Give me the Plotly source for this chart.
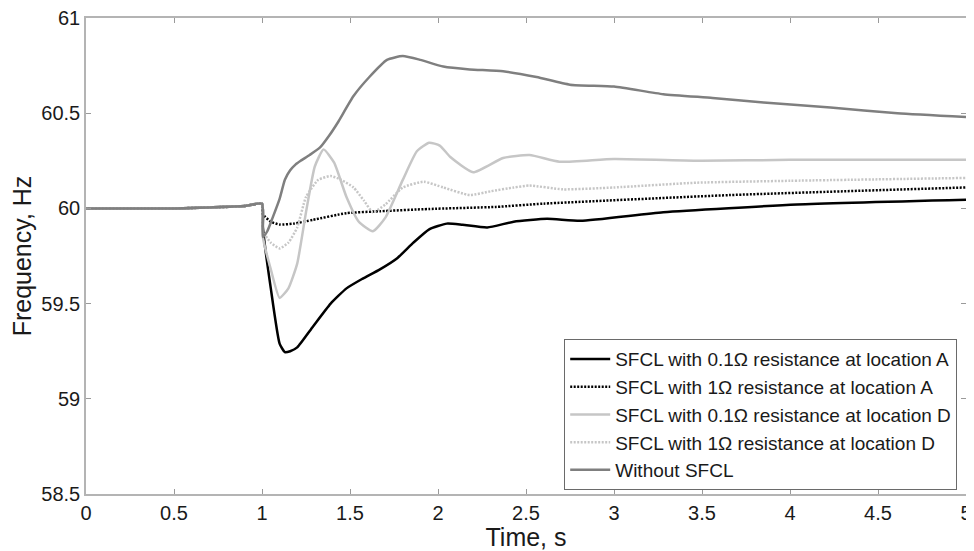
import plotly.graph_objects as go

# Data
t_a01 = [0, 0.5, 0.7, 0.9, 1.0, 1.005, 1.05, 1.10, 1.13, 1.16, 1.20, 1.29, 1.39, 1.48, 1.57, 1.67,
         1.77, 1.86, 1.95, 2.05, 2.14, 2.28, 2.43, 2.62, 2.81, 3.28, 4.04, 5.0]
f_a01 = [60, 60, 60.005, 60.012, 60.025, 59.90, 59.58, 59.29, 59.245, 59.25, 59.27, 59.38, 59.50, 59.58,
         59.63, 59.68, 59.74, 59.82, 59.89, 59.92, 59.914, 59.90, 59.93, 59.945, 59.935, 59.98, 60.02, 60.045]

t_a1 = [0, 0.5, 0.7, 0.9, 1.0, 1.005, 1.05, 1.10, 1.18, 1.29, 1.48, 1.67, 1.95, 2.33, 2.6, 3.66, 5.0]
f_a1 = [60, 60, 60.005, 60.012, 60.025, 59.97, 59.93, 59.915, 59.92, 59.94, 59.975, 59.985, 59.997,
        60.008, 60.025, 60.07, 60.11]

t_d01 = [0, 0.5, 0.7, 0.9, 1.0, 1.005, 1.05, 1.10, 1.15, 1.20, 1.25, 1.30, 1.35, 1.41, 1.48, 1.55, 1.63,
         1.70, 1.80, 1.88, 1.95, 2.01, 2.07, 2.20, 2.37, 2.52, 2.69, 3.0, 3.5, 4.0, 5.0]
f_d01 = [60, 60, 60.005, 60.012, 60.025, 59.85, 59.68, 59.53, 59.58, 59.71, 59.98, 60.22, 60.31, 60.24,
         60.06, 59.93, 59.88, 59.95, 60.15, 60.30, 60.345, 60.33, 60.27, 60.19, 60.265, 60.28, 60.245,
         60.26, 60.25, 60.255, 60.255]

t_d1 = [0, 0.5, 0.7, 0.9, 1.0, 1.005, 1.05, 1.10, 1.15, 1.20, 1.25, 1.32, 1.39, 1.45, 1.52, 1.58, 1.63,
        1.70, 1.80, 1.92, 2.03, 2.18, 2.30, 2.43, 2.52, 2.71, 3.0, 3.47, 4.0, 5.0]
f_d1 = [60, 60, 60.005, 60.012, 60.025, 59.88, 59.82, 59.79, 59.82, 59.90, 60.06, 60.15, 60.17, 60.15,
        60.11, 60.04, 59.98, 60.02, 60.11, 60.14, 60.11, 60.07, 60.09, 60.11, 60.12, 60.10, 60.11,
        60.135, 60.145, 60.16]

t_no = [0, 0.5, 0.7, 0.9, 1.0, 1.005, 1.03, 1.06, 1.10, 1.13, 1.16, 1.19, 1.22, 1.27, 1.33, 1.38, 1.43,
        1.52, 1.61, 1.71, 1.80, 1.90, 2.03, 2.18, 2.37, 2.56, 2.75, 3.0, 3.28, 3.56, 3.85, 4.23, 4.61, 5.0]
f_no = [60, 60, 60.005, 60.012, 60.025, 59.85, 59.88, 59.95, 60.05, 60.15, 60.20, 60.23, 60.25, 60.28,
        60.32, 60.38, 60.45, 60.59, 60.69, 60.78, 60.80, 60.78, 60.745, 60.73, 60.72, 60.69, 60.65,
        60.64, 60.60, 60.58, 60.556, 60.53, 60.50, 60.48]

names = ["SFCL with 0.1\u03a9 resistance at location A",
         "SFCL with 1\u03a9 resistance at location A",
         "SFCL with 0.1\u03a9 resistance at location D",
         "SFCL with 1\u03a9 resistance at location D",
         "Without SFCL"]

x_ticks = [0, 0.5, 1, 1.5, 2, 2.5, 3, 3.5, 4, 4.5, 5]
y_ticks = [58.5, 59, 59.5, 60, 60.5, 61]

series = [
    (t_a01, f_a01, "#000000", "solid"),
    (t_a1, f_a1, "#000000", "2px,1.5px"),
    (t_d01, f_d01, "#c6c6c6", "solid"),
    (t_d1, f_d1, "#c6c6c6", "2px,1.5px"),
    (t_no, f_no, "#7f7f7f", "solid"),
]

FONT = "Liberation Sans"

fig = go.Figure()
for (tx, fy, col, dash), nm in zip(series, names):
    fig.add_trace(go.Scatter(x=tx, y=fy, mode="lines", name=nm,
                             line=dict(color=col, width=2.5, dash=dash, shape="spline", smoothing=0.5)))

axis_common = dict(showgrid=False, zeroline=False, showline=True, linecolor="#b4b4b4", linewidth=1.5,
                   mirror="ticks", ticks="inside", ticklen=5, tickcolor="#9a9a9a", tickwidth=1,
                   automargin=False, ticklabeloverflow="allow",
                   tickfont=dict(family=FONT, size=20, color="#1a1a1a"))

# page body adds an 8px offset, so the figure is sized to fit the 974x551 window
fig.update_layout(
    width=966, height=543,
    margin=dict(l=78, r=8, t=10, b=57),
    paper_bgcolor="white", plot_bgcolor="white",
    xaxis=dict(range=[0, 5], tickvals=x_ticks, ticktext=[f"{v:g}" for v in x_ticks],
               title=dict(text="Time, s", font=dict(family=FONT, size=25, color="#1a1a1a"),
                          standoff=0), **axis_common),
    yaxis=dict(range=[58.5, 61], tickvals=y_ticks, ticktext=[f"{v:g}" for v in y_ticks],
               title=dict(text="Frequency, Hz", font=dict(family=FONT, size=25, color="#1a1a1a"),
                          standoff=8), **axis_common),
    legend=dict(x=0.99, y=0.008, xanchor="right", yanchor="bottom", bgcolor="white",
                bordercolor="#6a6a6a", borderwidth=1,
                font=dict(family=FONT, size=19, color="#1a1a1a"),
                tracegroupgap=0, itemwidth=40),
    showlegend=True,
)

fig.write_html("out.html")
